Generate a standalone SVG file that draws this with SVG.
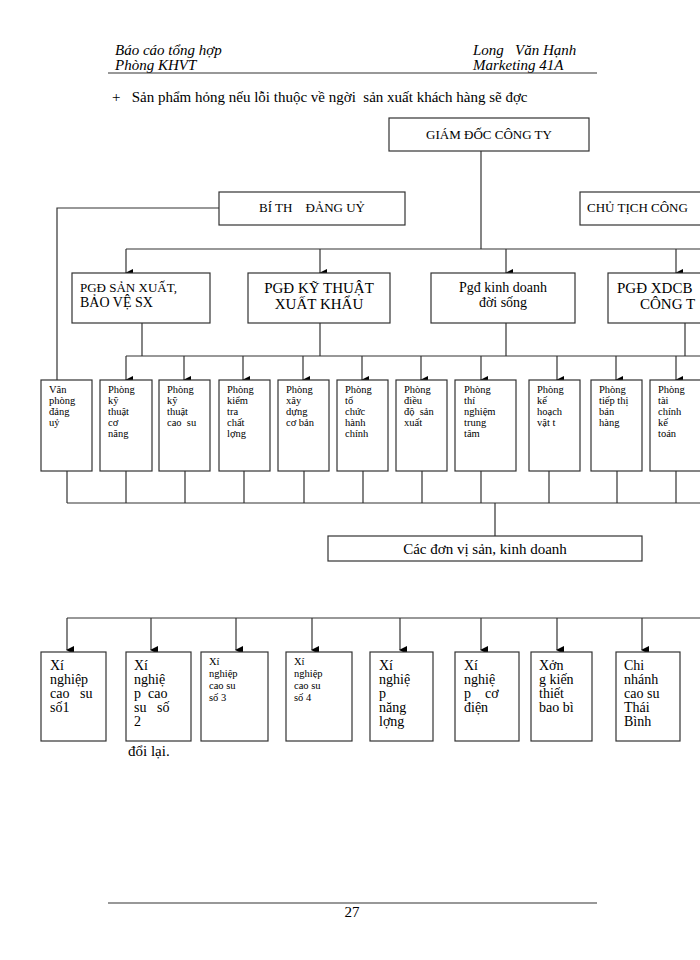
<svg xmlns="http://www.w3.org/2000/svg" width="700" height="960" viewBox="0 0 700 960">
<style>
text{font-family:"Liberation Serif","Times New Roman",serif;fill:#000;white-space:pre}
.b{fill:#fff;stroke:#333;stroke-width:1.2}
.l{stroke:#333;stroke-width:1.2;fill:none}
.s{font-size:10.5px}
.m{font-size:14px}
.h{font-size:15px;font-style:italic}
.big{font-size:15px}
</style>
<defs><marker id="a" markerWidth="8" markerHeight="8" refX="4" refY="7" orient="auto" markerUnits="userSpaceOnUse"><path d="M0,0 L8,0 L4,8 Z" fill="#000"/></marker></defs>
<text class="h" x="115" y="55">Báo cáo tổng hợp</text>
<text class="h" x="115" y="70">Phòng KHVT</text>
<text class="h" x="473" y="55">Long   Văn Hạnh</text>
<text class="h" x="473" y="70">Marketing 41A</text>
<line class="l" x1="108" y1="73" x2="597" y2="73"/>
<text x="112" y="102" style="font-size:15px">+   Sản phẩm hỏng nếu lỗi thuộc về ngời  sản xuất khách hàng sẽ đợc</text>
<g id="connectors">
<polyline class="l" points="481,151 481,249"/>
<polyline class="l" points="126,249 700,249"/>
<polyline class="l" points="219,208 57,208 57,380"/>
<g marker-end="url(#a)">
<line class="l" x1="126" y1="249" x2="126" y2="273"/><line class="l" x1="320" y1="249" x2="320" y2="273"/><line class="l" x1="506" y1="249" x2="506" y2="273"/><line class="l" x1="676" y1="249" x2="676" y2="273"/>
</g>
<line class="l" x1="142" y1="323" x2="142" y2="356"/><line class="l" x1="320" y1="323" x2="320" y2="356"/><line class="l" x1="506" y1="323" x2="506" y2="356"/><line class="l" x1="685" y1="323" x2="685" y2="356"/>
<line class="l" x1="126" y1="356" x2="700" y2="356"/>
<g marker-end="url(#a)">
<line class="l" x1="126" y1="356" x2="126" y2="380"/><line class="l" x1="184" y1="356" x2="184" y2="380"/><line class="l" x1="243" y1="356" x2="243" y2="380"/><line class="l" x1="303" y1="356" x2="303" y2="380"/><line class="l" x1="362" y1="356" x2="362" y2="380"/><line class="l" x1="421" y1="356" x2="421" y2="380"/><line class="l" x1="481" y1="356" x2="481" y2="380"/><line class="l" x1="557" y1="356" x2="557" y2="380"/><line class="l" x1="616" y1="356" x2="616" y2="380"/><line class="l" x1="676" y1="356" x2="676" y2="380"/>
</g>
<path class="l" d="M67,471V503M126,471V503M185,471V503M244,471V503M304,471V503M363,471V503M422,471V503M481,471V503M549,471V503M617,471V503M676,471V503M67,503H700M495,503V536"/>
<line class="l" x1="67" y1="618" x2="700" y2="618"/>
<g marker-end="url(#a)">
<line class="l" x1="67" y1="618" x2="67" y2="650"/><line class="l" x1="151" y1="618" x2="151" y2="650"/><line class="l" x1="236" y1="618" x2="236" y2="650"/><line class="l" x1="312" y1="618" x2="312" y2="650"/><line class="l" x1="400" y1="618" x2="400" y2="650"/><line class="l" x1="481" y1="618" x2="481" y2="650"/><line class="l" x1="557" y1="618" x2="557" y2="650"/><line class="l" x1="642" y1="618" x2="642" y2="650"/>
</g>
</g>
<g id="gd"><rect class="b" x="389" y="118" width="200" height="33"/><text x="489" y="139" text-anchor="middle" style="font-size:13px">GIÁM ĐỐC CÔNG TY</text></g>
<g id="bt"><rect class="b" x="219" y="192" width="186" height="33"/><text x="312" y="212" text-anchor="middle" style="font-size:13px">BÍ TH    ĐẢNG UỶ</text></g>
<g id="ct"><rect class="b" x="580" y="192" width="130" height="33"/><text x="587" y="212" style="font-size:13px">CHỦ TỊCH CÔNG</text></g>
<g id="p1"><rect class="b" x="72" y="273" width="138" height="50"/><text x="80" y="292" style="font-size:13px">PGĐ SẢN XUẤT,</text><text x="80" y="307" style="font-size:14px">BẢO VỆ SX</text></g>
<g id="p2"><rect class="b" x="248" y="273" width="142" height="50"/><text x="319" y="293" text-anchor="middle" class="big">PGĐ KỸ THUẬT</text><text x="319" y="309" text-anchor="middle" class="big">XUẤT KHẨU</text></g>
<g id="p3"><rect class="b" x="431" y="273" width="144" height="50"/><text x="503" y="292" text-anchor="middle" style="font-size:14px">Pgđ kinh doanh</text><text x="503" y="307" text-anchor="middle" style="font-size:14px">đời sống</text></g>
<g id="p4"><rect class="b" x="608" y="273" width="100" height="50"/><text x="617" y="293" class="big">PGĐ XDCB</text><text x="640" y="309" class="big">CÔNG T</text></g>
<g id="d0"><rect class="b" x="41" y="380" width="51" height="91"/><text class="s" x="49" y="393">Văn</text><text class="s" x="49" y="404">phòng</text><text class="s" x="49" y="415">đảng</text><text class="s" x="49" y="426">uỷ</text></g>
<g id="d1"><rect class="b" x="100" y="380" width="52" height="91"/><text class="s" x="108" y="393">Phòng</text><text class="s" x="108" y="404">kỹ</text><text class="s" x="108" y="415">thuật</text><text class="s" x="108" y="426">cơ</text><text class="s" x="108" y="437">năng</text></g>
<g id="d2"><rect class="b" x="159" y="380" width="51" height="91"/><text class="s" x="167" y="393">Phòng</text><text class="s" x="167" y="404">kỹ</text><text class="s" x="167" y="415">thuật</text><text class="s" x="167" y="426">cao  su</text></g>
<g id="d3"><rect class="b" x="219" y="380" width="51" height="91"/><text class="s" x="227" y="393">Phòng</text><text class="s" x="227" y="404">kiểm</text><text class="s" x="227" y="415">tra</text><text class="s" x="227" y="426">chất</text><text class="s" x="227" y="437">lợng</text></g>
<g id="d4"><rect class="b" x="278" y="380" width="51" height="91"/><text class="s" x="286" y="393">Phòng</text><text class="s" x="286" y="404">xây</text><text class="s" x="286" y="415">dựng</text><text class="s" x="286" y="426">cơ bản</text></g>
<g id="d5"><rect class="b" x="337" y="380" width="51" height="91"/><text class="s" x="345" y="393">Phòng</text><text class="s" x="345" y="404">tổ</text><text class="s" x="345" y="415">chức</text><text class="s" x="345" y="426">hành</text><text class="s" x="345" y="437">chính</text></g>
<g id="d6"><rect class="b" x="396" y="380" width="51" height="91"/><text class="s" x="404" y="393">Phòng</text><text class="s" x="404" y="404">điều</text><text class="s" x="404" y="415">độ  sản</text><text class="s" x="404" y="426">xuất</text></g>
<g id="d7"><rect class="b" x="455" y="380" width="61" height="91"/><text class="s" x="464" y="393">Phòng</text><text class="s" x="464" y="404">thí</text><text class="s" x="464" y="415">nghiệm</text><text class="s" x="464" y="426">trung</text><text class="s" x="464" y="437">tâm</text></g>
<g id="d8"><rect class="b" x="529" y="380" width="51" height="91"/><text class="s" x="537" y="393">Phòng</text><text class="s" x="537" y="404">kế</text><text class="s" x="537" y="415">hoạch</text><text class="s" x="537" y="426">vật t</text></g>
<g id="d9"><rect class="b" x="591" y="380" width="51" height="91"/><text class="s" x="599" y="393">Phòng</text><text class="s" x="599" y="404">tiếp thị</text><text class="s" x="599" y="415">bán</text><text class="s" x="599" y="426">hàng</text></g>
<g id="d10"><rect class="b" x="650" y="380" width="51" height="91"/><text class="s" x="658" y="393">Phòng</text><text class="s" x="658" y="404">tài</text><text class="s" x="658" y="415">chính</text><text class="s" x="658" y="426">kế</text><text class="s" x="658" y="437">toán</text></g>
<g id="dv"><rect class="b" x="328" y="536" width="314" height="25"/><text x="485" y="554" text-anchor="middle" style="font-size:15px">Các đơn vị sản, kinh doanh</text></g>
<g id="x1"><rect class="b" x="41" y="652" width="65" height="89"/><text class="m" x="50" y="670">Xí</text><text class="m" x="50" y="684">nghiệp</text><text class="m" x="50" y="698">cao   su</text><text class="m" x="50" y="712">số1</text></g>
<g id="x2"><rect class="b" x="126" y="652" width="65" height="89"/><text class="m" x="134" y="670">Xí</text><text class="m" x="134" y="684">nghiệ</text><text class="m" x="134" y="698">p  cao</text><text class="m" x="134" y="712">su   số</text><text class="m" x="134" y="726">2</text></g>
<g id="x3"><rect class="b" x="201" y="652" width="67" height="89"/><text class="s" x="209" y="665">Xí</text><text class="s" x="209" y="677">nghiệp</text><text class="s" x="209" y="689">cao su</text><text class="s" x="209" y="701">số 3</text></g>
<g id="x4"><rect class="b" x="286" y="652" width="66" height="89"/><text class="s" x="294" y="665">Xí</text><text class="s" x="294" y="677">nghiệp</text><text class="s" x="294" y="689">cao su</text><text class="s" x="294" y="701">số 4</text></g>
<g id="x5"><rect class="b" x="370" y="652" width="63" height="89"/><text class="m" x="379" y="670">Xí</text><text class="m" x="379" y="684">nghiệ</text><text class="m" x="379" y="698">p</text><text class="m" x="379" y="712">năng</text><text class="m" x="379" y="726">lợng</text></g>
<g id="x6"><rect class="b" x="455" y="652" width="64" height="89"/><text class="m" x="464" y="670">Xí</text><text class="m" x="464" y="684">nghiệ</text><text class="m" x="464" y="698">p    cơ</text><text class="m" x="464" y="712">điện</text></g>
<g id="x7"><rect class="b" x="531" y="652" width="61" height="89"/><text class="m" x="539" y="670">Xởn</text><text class="m" x="539" y="684">g kiến</text><text class="m" x="539" y="698">thiết</text><text class="m" x="539" y="712">bao bì</text></g>
<g id="x8"><rect class="b" x="616" y="652" width="64" height="89"/><text class="m" x="624" y="670">Chi</text><text class="m" x="624" y="684">nhánh</text><text class="m" x="624" y="698">cao su</text><text class="m" x="624" y="712">Thái</text><text class="m" x="624" y="726">Bình</text></g>
<text x="128" y="756" style="font-size:15px">đổi lại.</text>
<line class="l" x1="108" y1="903" x2="597" y2="903"/>
<text x="352" y="917" text-anchor="middle" style="font-size:15px">27</text>
</svg>
